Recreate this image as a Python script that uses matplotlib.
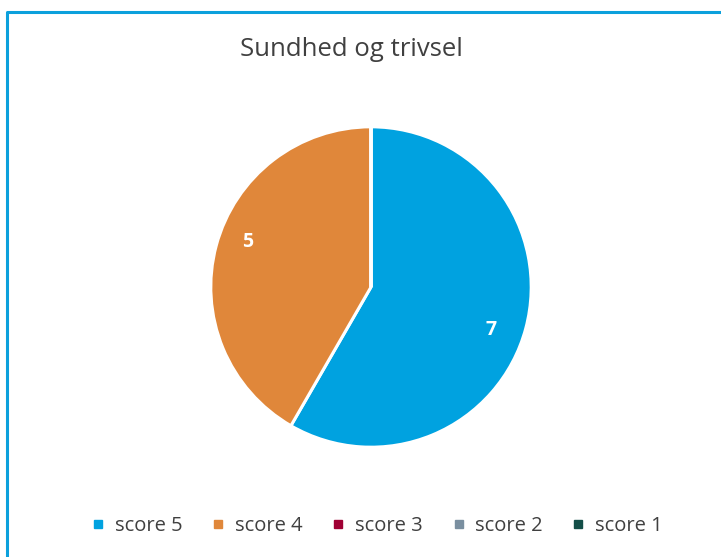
import matplotlib.pyplot as plt
from matplotlib.lines import Line2D

labels = ["score 5", "score 4", "score 3", "score 2", "score 1"]
values = [7, 5, 0, 0, 0]
colors = ["#00A2E0", "#E0873A", "#A00034", "#7A8FA0", "#134E48"]

plt.rcParams['font.family'] = ['Open Sans', 'DejaVu Sans']

fig = plt.figure(figsize=(7.21, 5.57), dpi=100)

# cropped blue frame (left + top only visible)
fig.add_artist(Line2D([7 / 721, 7 / 721, 1], [0, 1 - 12 / 557, 1 - 12 / 557],
                      transform=fig.transFigure, color="#0CA0DC", linewidth=2.2))

cx, cy = 371 / 721, 1 - 287 / 557
w, h = 322 / 721, 322 / 557
ax = fig.add_axes([cx - w / 2, cy - h / 2, w, h])

total = sum(values)
wedges, texts, autotexts = ax.pie(
    values, colors=colors, startangle=90, counterclock=False,
    wedgeprops=dict(edgecolor="white", linewidth=2.2),
    autopct=lambda p: f"{round(p * total / 100)}" if p > 0 else "",
    pctdistance=0.8,
    textprops=dict(color="white", fontsize=14, fontweight="bold"))
autotexts[0].set_position((0.75, -0.27))
autotexts[1].set_position((-0.77, 0.28))
ax.set_xlim(-1.005, 1.005)
ax.set_ylim(-1.005, 1.005)
ax.set_aspect("equal")
ax.axis("off")

fig.text(0.488, 1 - 50 / 557, "Sundhed og trivsel", ha="center", va="center",
         fontsize=18.5, color="#404040")

handles = [Line2D([], [], marker="s", linestyle="", markersize=5.5,
                  markerfacecolor=c, markeredgecolor=c) for c in colors]
fig.legend(handles, labels, loc="center", bbox_to_anchor=(0.522, 1 - 526 / 557),
           ncol=5, frameon=False, fontsize=14.5, handlelength=0.8, handletextpad=0.4,
           columnspacing=1.4, labelcolor="#404040")

fig.savefig("out.png", dpi=100)
